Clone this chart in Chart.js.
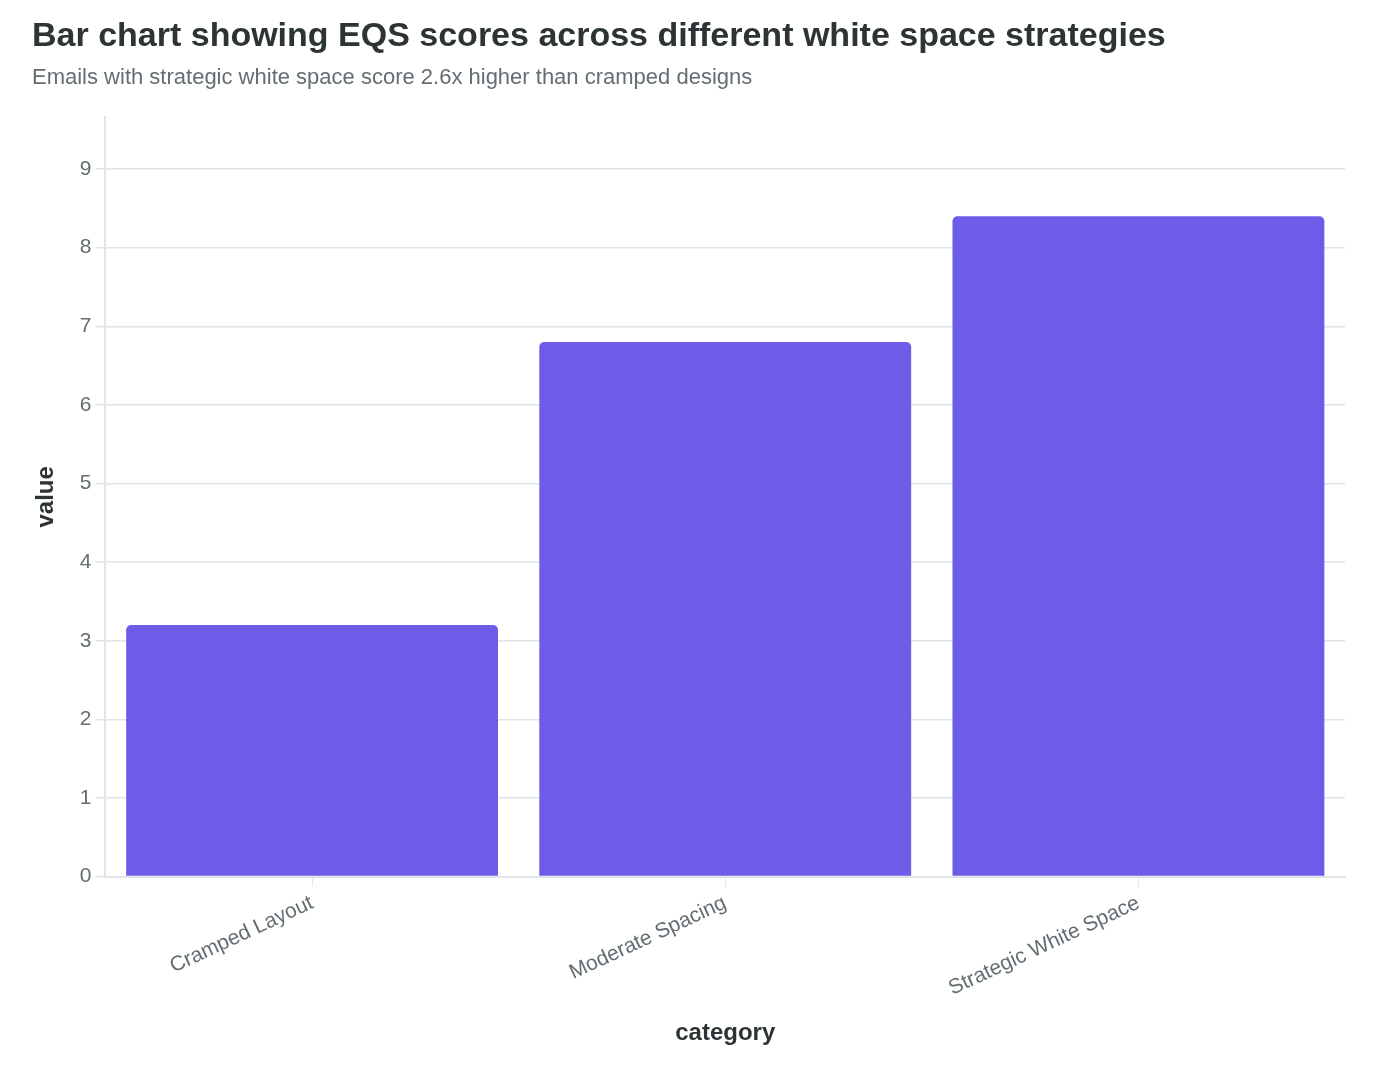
<!DOCTYPE html>
<html>
<head>
<meta charset="utf-8">
<title>EQS scores by white space strategy</title>
<script src="https://cdn.jsdelivr.net/npm/chart.js@4.4.1/dist/chart.umd.min.js"></script>
<style>
  html, body { margin: 0; padding: 0; background: #ffffff; }
  #wrap { width: 1394px; height: 1074px; }
</style>
</head>
<body>
<div id="wrap"><canvas id="eqsChart"></canvas></div>
<script>
// data
const categories = ["Cramped Layout", "Moderate Spacing", "Strategic White Space"];
const eqsScores = [3.2, 6.8, 8.4];
const yTicks = [0, 1, 2, 3, 4, 5, 6, 7, 8, 9];

const titleText = "Bar chart showing EQS scores across different white space strategies";
const subtitleText = "Emails with strategic white space score 2.6x higher than cramped designs";

const FONT = "'Liberation Sans', Arial, Helvetica, sans-serif";
const gridColor = "#dfe6e9";
const textColor = "#636e72";
const darkText = "#2d3436";

const ctx = document.getElementById("eqsChart").getContext("2d");

new Chart(ctx, {
  type: "bar",
  data: {
    labels: categories,
    datasets: [
      {
        label: "EQS score",
        data: eqsScores,
        backgroundColor: "#6c5ce7",
        borderRadius: { topLeft: 5, topRight: 5 },
        borderSkipped: "bottom",
        barPercentage: 0.9,
        categoryPercentage: 1.0,
      },
    ],
  },
  options: {
    responsive: true,
    maintainAspectRatio: false,
    animation: false,
    layout: {
      padding: { top: 16, right: 49, bottom: 22, left: 32 },
    },
    scales: {
      x: {
        grid: {
          display: true,
          drawOnChartArea: false,
          drawTicks: true,
          offset: false,
          tickLength: 10,
          color: gridColor,
        },
        border: { color: gridColor, width: 2 },
        ticks: {
          color: textColor,
          font: { family: FONT, size: 21 },
          minRotation: 25,
          maxRotation: 25,
          padding: 4,
        },
        title: {
          display: true,
          text: "category",
          color: darkText,
          font: { family: FONT, size: 24, weight: "bold" },
          padding: { top: 14, bottom: 4 },
        },
      },
      y: {
        min: 0,
        max: Math.max(...eqsScores) * 1.15,
        grid: { color: gridColor, lineWidth: 1.5, tickLength: 10 },
        border: { color: gridColor, width: 2 },
        afterBuildTicks: (scale) => {
          scale.ticks = yTicks.map((v) => ({ value: v }));
        },
        ticks: {
          color: textColor,
          font: { family: FONT, size: 21 },
          padding: 4,
        },
        title: {
          display: true,
          text: "value",
          color: darkText,
          font: { family: FONT, size: 24, weight: "bold" },
          padding: { top: 0, bottom: 15 },
        },
      },
    },
    plugins: {
      legend: { display: false },
      tooltip: { enabled: false },
      title: {
        display: true,
        text: titleText,
        align: "start",
        color: darkText,
        font: { family: FONT, size: 34, weight: "bold" },
        padding: { top: 0, bottom: 8 },
      },
      subtitle: {
        display: true,
        text: subtitleText,
        align: "start",
        color: textColor,
        font: { family: FONT, size: 22 },
        padding: { top: 0, bottom: 26 },
      },
    },
  },
});
</script>
</body>
</html>
